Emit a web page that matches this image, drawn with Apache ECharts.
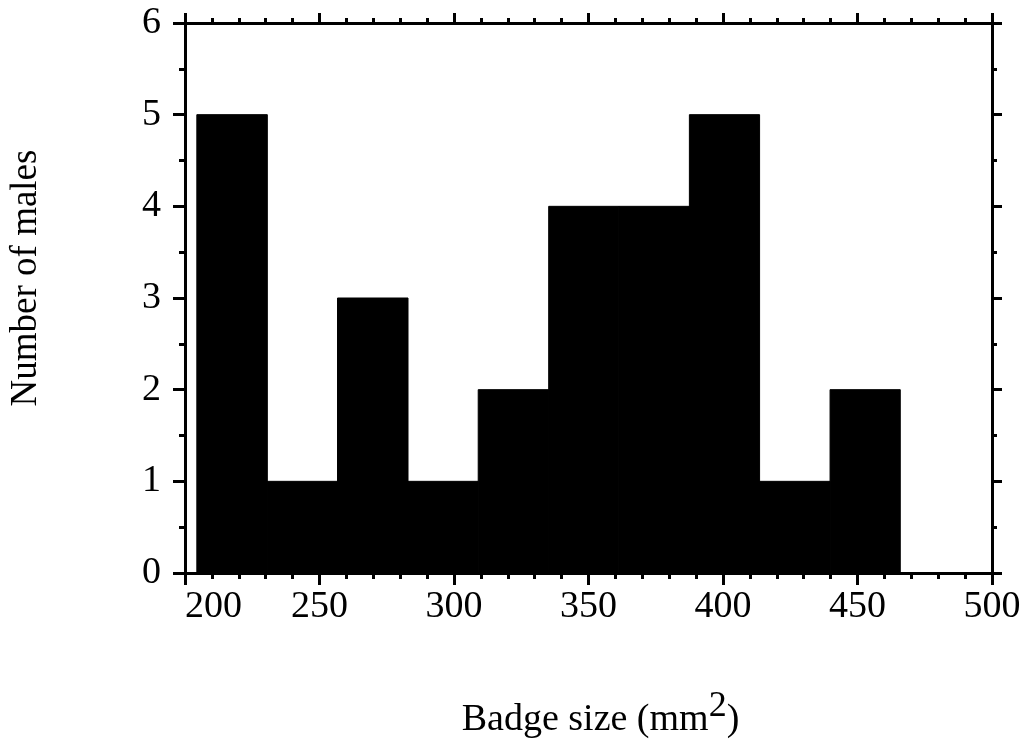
<!DOCTYPE html>
<html>
<head>
<meta charset="utf-8">
<script src="https://cdn.jsdelivr.net/npm/echarts@6/dist/echarts.min.js"></script>
<style>html,body{margin:0;padding:0;background:#fff}#c{width:1027px;height:756px}</style>
</head>
<body>
<div id="c"></div>
<script>
// Histogram bins (badge size, mm^2) and counts
var binStart = [204.4, 230.6, 256.7, 282.9, 309.0, 335.2, 361.3, 387.5, 413.6, 439.8];
var binEnd   = [230.6, 256.7, 282.9, 309.0, 335.2, 361.3, 387.5, 413.6, 439.8, 465.9];
var counts   = [5, 1, 3, 1, 2, 4, 4, 5, 1, 2];
var xTicks = [200, 250, 300, 350, 400, 450, 500];
var yTicks = [0, 1, 2, 3, 4, 5, 6];

var data = counts.map(function (c, i) { return [binStart[i], binEnd[i], c]; });
var font = 'Liberation Serif';
var axisLine = { show: true, onZero: false, lineStyle: { color: '#000', width: 3 } };

var chart = echarts.init(document.getElementById('c'));
chart.setOption({
  animation: false,
  backgroundColor: '#fff',
  grid: { left: 182, right: 35, top: 23, bottom: 183 },
  xAxis: [{
    type: 'value', position: 'bottom',
    min: xTicks[0], max: xTicks[xTicks.length - 1], interval: 50,
    axisLine: axisLine,
    axisTick: { show: true, inside: false, length: 12, lineStyle: { color: '#000', width: 3 } },
    minorTick: { show: true, splitNumber: 5, length: 6, lineStyle: { color: '#000', width: 3 } },
    splitLine: { show: false },
    axisLabel: { fontFamily: font, fontSize: 38, color: '#000', margin: 15, alignMinLabel: 'left' },
    name: '{n|Badge size (mm}{s|2}{n|)}',
    nameLocation: 'middle', nameGap: 116,
    nameTextStyle: {
      padding: [0, 0, 0, 24],
      rich: {
        n: { fontFamily: font, fontSize: 38, color: '#000', verticalAlign: 'bottom' },
        s: { fontFamily: font, fontSize: 36, color: '#000', verticalAlign: 'bottom', padding: [0, 0, 14, 0] }
      }
    }
  }, {
    type: 'value', position: 'top',
    min: xTicks[0], max: xTicks[xTicks.length - 1], interval: 50,
    axisLine: axisLine,
    axisTick: { show: true, inside: false, length: 10, lineStyle: { color: '#000', width: 3 } },
    minorTick: { show: true, splitNumber: 5, length: 5, lineStyle: { color: '#000', width: 3 } },
    splitLine: { show: false },
    axisLabel: { show: false }
  }],
  yAxis: [{
    type: 'value', position: 'left',
    min: yTicks[0], max: yTicks[yTicks.length - 1], interval: 1,
    axisLine: axisLine,
    axisTick: { show: true, inside: false, length: 12, lineStyle: { color: '#000', width: 3 } },
    minorTick: { show: true, splitNumber: 2, length: 6, lineStyle: { color: '#000', width: 3 } },
    splitLine: { show: false },
    axisLabel: { fontFamily: font, fontSize: 38, color: '#000', margin: 24 },
    name: 'Number of males',
    nameLocation: 'middle', nameGap: 140,
    nameTextStyle: { fontFamily: font, fontSize: 37, color: '#000', padding: [0, 0, 0, 40] }
  }, {
    type: 'value', position: 'right',
    min: yTicks[0], max: yTicks[yTicks.length - 1], interval: 1,
    axisLine: axisLine,
    axisTick: { show: true, inside: false, length: 10, lineStyle: { color: '#000', width: 3 } },
    minorTick: { show: true, splitNumber: 2, length: 5, lineStyle: { color: '#000', width: 3 } },
    splitLine: { show: false },
    axisLabel: { show: false }
  }],
  series: [{
    type: 'custom',
    xAxisIndex: 0, yAxisIndex: 0,
    data: data,
    encode: { x: [0, 1], y: 2 },
    renderItem: function (params, api) {
      var p0 = api.coord([api.value(0), 0]);
      var p1 = api.coord([api.value(1), api.value(2)]);
      return {
        type: 'rect',
        shape: { x: p0[0], y: p1[1], width: p1[0] - p0[0], height: p0[1] - p1[1] },
        style: { fill: '#000', stroke: '#000', lineWidth: 1 }
      };
    }
  }]
});
</script>
</body>
</html>
